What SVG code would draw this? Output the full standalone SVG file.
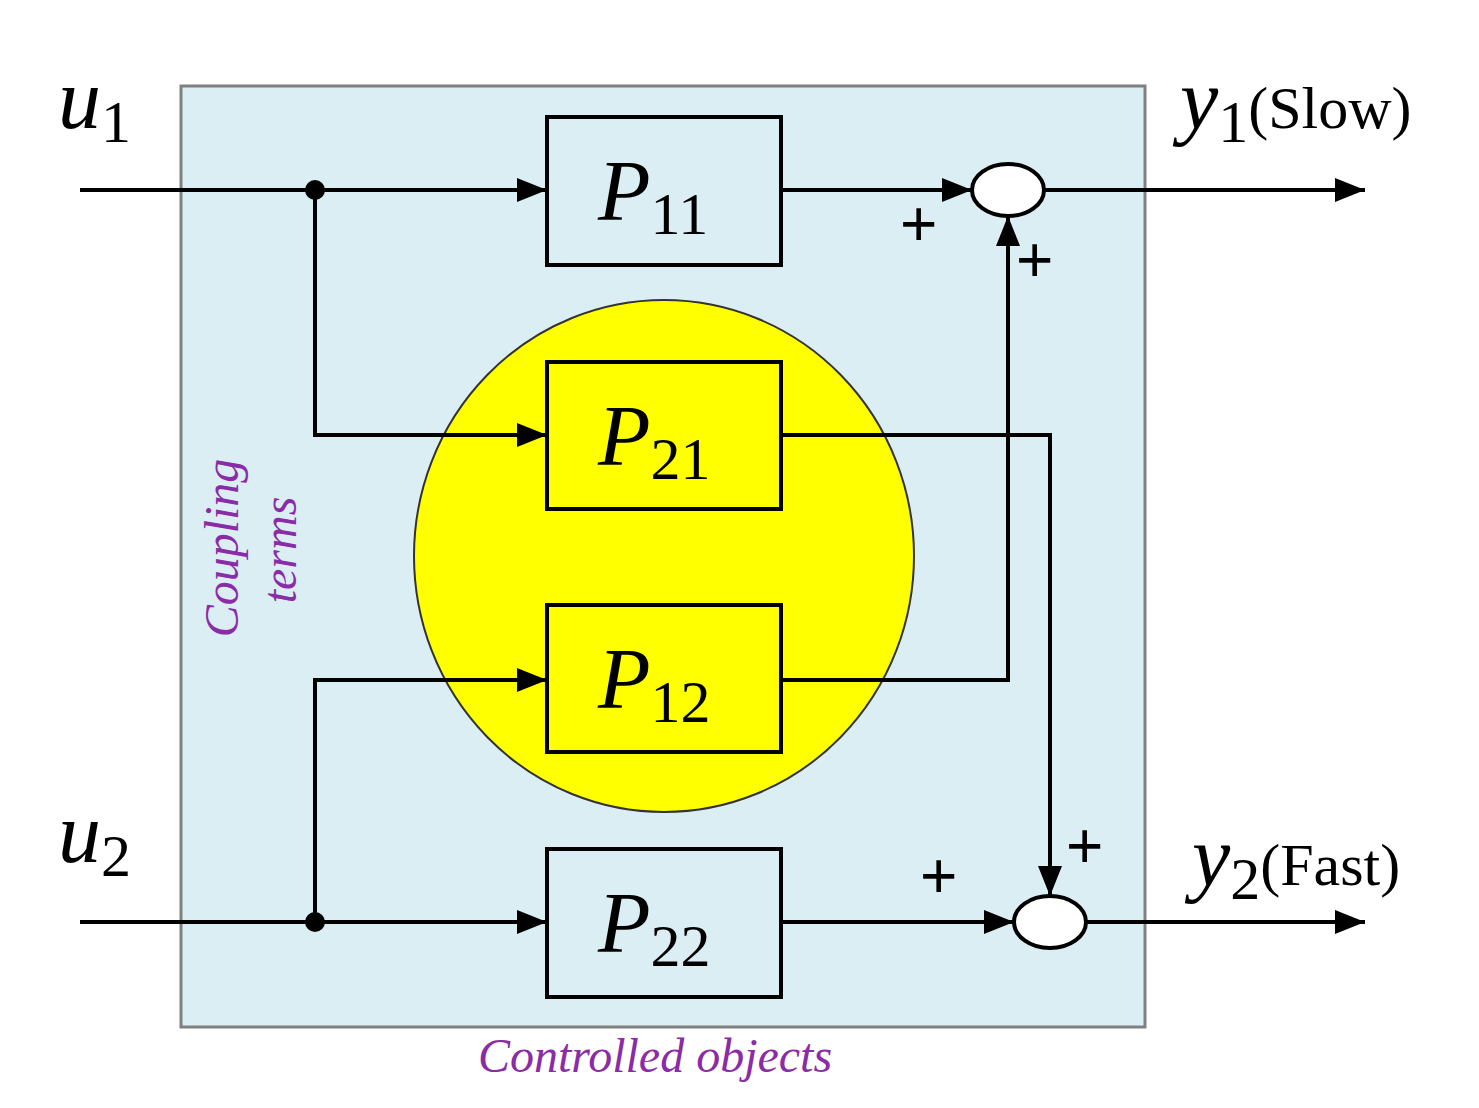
<svg xmlns="http://www.w3.org/2000/svg" width="1479" height="1108" viewBox="0 0 1479 1108">
<defs>
<marker id="a" viewBox="0 0 30 24" refX="30" refY="12" markerWidth="30" markerHeight="24" markerUnits="userSpaceOnUse" orient="auto"><path d="M0,0 L30,12 L0,24 z" fill="#000"/></marker>
</defs>
<style>
.ln{fill:none;stroke:#000;stroke-width:4}
.bx{stroke:#000;stroke-width:4}
.p{font-family:"Liberation Serif",serif;font-style:italic;font-size:86px}
.s{font-family:"Liberation Serif",serif;font-size:60px}
.pl{font-family:"Liberation Sans",sans-serif;font-size:64px}
.pu{font-family:"Liberation Serif",serif;font-style:italic;font-size:48px;fill:#8a2ba8}
</style>
<rect x="181" y="86" width="964" height="941" fill="#dbeef4" stroke="#808080" stroke-width="3"/>
<ellipse cx="664" cy="556" rx="250" ry="256" fill="#ffff00" stroke="#333" stroke-width="2"/>
<g id="connectors">
<path class="ln" d="M80,190 H547" marker-end="url(#a)"/>
<path class="ln" d="M315,190 V435 H547" marker-end="url(#a)"/>
<path class="ln" d="M80,922 H547" marker-end="url(#a)"/>
<path class="ln" d="M315,922 V680 H547" marker-end="url(#a)"/>
<path class="ln" d="M781,190 H972" marker-end="url(#a)"/>
<path class="ln" d="M1044,190 H1365" marker-end="url(#a)"/>
<path class="ln" d="M781,435 H1050 V896" marker-end="url(#a)"/>
<path class="ln" d="M781,680 H1008 V216" marker-end="url(#a)"/>
<path class="ln" d="M781,922 H1014" marker-end="url(#a)"/>
<path class="ln" d="M1086,922 H1365" marker-end="url(#a)"/>
<circle cx="315" cy="190" r="10"/>
<circle cx="315" cy="922" r="10"/>
</g>
<g id="P11"><rect class="bx" x="547" y="117" width="234" height="148" fill="#dbeef4"/><text x="598" y="220" class="p">P<tspan class="s" font-style="normal" dy="14">11</tspan></text></g>
<g id="P21"><rect class="bx" x="547" y="362" width="234" height="147" fill="#ffff00"/><text x="598" y="465" class="p">P<tspan class="s" font-style="normal" dy="14">21</tspan></text></g>
<g id="P12"><rect class="bx" x="547" y="605" width="234" height="147" fill="#ffff00"/><text x="598" y="708" class="p">P<tspan class="s" font-style="normal" dy="14">12</tspan></text></g>
<g id="P22"><rect class="bx" x="547" y="849" width="234" height="148" fill="#dbeef4"/><text x="598" y="952" class="p">P<tspan class="s" font-style="normal" dy="14">22</tspan></text></g>
<g id="sum1"><ellipse cx="1008" cy="190" rx="36" ry="26" fill="#fff" stroke="#000" stroke-width="4"/></g>
<g id="sum2"><ellipse cx="1050" cy="922" rx="36" ry="26" fill="#fff" stroke="#000" stroke-width="4"/></g>
<text x="58" y="128" class="p">u<tspan class="s" font-style="normal" dy="14">1</tspan></text>
<text x="58" y="862" class="p">u<tspan class="s" font-style="normal" dy="14">2</tspan></text>
<text x="1180" y="128" class="p">y<tspan class="s" font-style="normal" dy="14">1</tspan><tspan class="s" font-style="normal" dy="-14">(Slow)</tspan></text>
<text x="1192" y="885" class="p">y<tspan class="s" font-style="normal" dy="14">2</tspan><tspan class="s" font-style="normal" dy="-14">(Fast)</tspan></text>
<text x="900" y="246" class="pl">+</text>
<text x="1016" y="282" class="pl">+</text>
<text x="1066" y="868" class="pl">+</text>
<text x="920" y="898" class="pl">+</text>
<text class="pu" transform="translate(238,548) rotate(-90)" text-anchor="middle">Coupling</text>
<text class="pu" transform="translate(296,550) rotate(-90)" text-anchor="middle">terms</text>
<text x="655" y="1072" class="pu" text-anchor="middle">Controlled objects</text>
</svg>
